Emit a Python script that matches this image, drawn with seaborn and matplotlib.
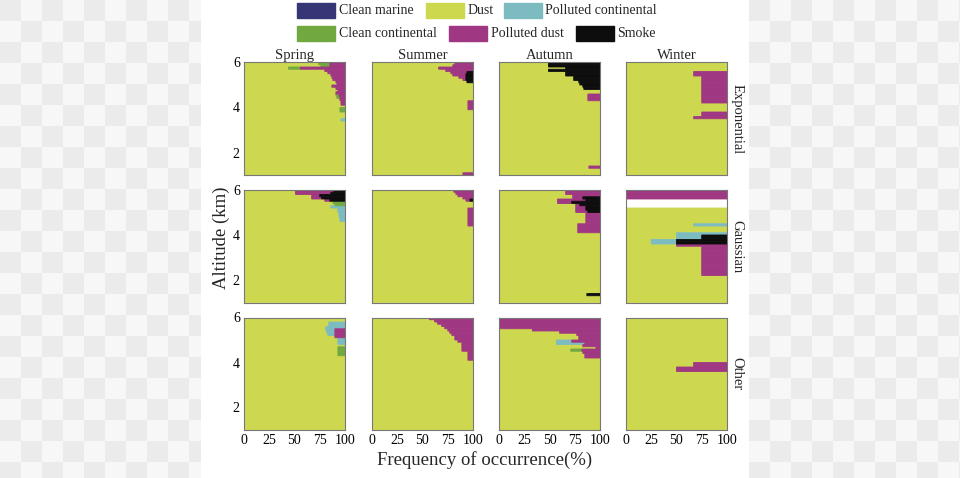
import numpy as np
import pandas as pd
import matplotlib
matplotlib.use("Agg")
import matplotlib.pyplot as plt
import seaborn as sns
from matplotlib.patches import Rectangle

# ---------------- data ----------------
SEASONS = ["Spring", "Summer", "Autumn", "Winter"]
SCHEMES = ["Exponential", "Gaussian", "Other"]
TYPES = ["Clean marine", "Dust", "Polluted continental",
         "Clean continental", "Polluted dust", "Smoke"]
TYPE_COLORS = ["#363676", "#cdd84f", "#7cbcc0", "#72a840", "#a03782", "#0d0d0d"]
# order of the values in each profile tuple below
PROFILE_TYPES = ["Dust", "Polluted continental", "Clean continental",
                 "Polluted dust", "Smoke"]
ALT_RANGE = (1.0, 6.0)     # km
ALT_STEP = 0.1             # km, vertical resolution of the profiles
X_TICKS = [0, 25, 50, 75, 100]
Y_TICKS = [2, 4, 6]

# frequency (%) per altitude bin centre; bins not listed are 100 % dust
exp_spring = {
    5.95: (74, 0, 11, 15, 0), 5.85: (76, 0, 9, 15, 0), 5.75: (44, 0, 12, 44, 0),
    5.65: (80, 0, 0, 20, 0), 5.55: (83, 0, 0, 17, 0), 5.45: (86, 0, 0, 14, 0),
    5.35: (87, 0, 0, 13, 0), 5.25: (88, 0, 0, 12, 0), 5.15: (91, 0, 0, 9, 0),
    5.05: (92, 0, 0, 8, 0), 4.95: (87, 0, 0, 13, 0), 4.85: (91, 0, 0, 9, 0),
    4.75: (93, 0, 0, 7, 0), 4.65: (91, 0, 0, 9, 0), 4.55: (91, 0, 3, 6, 0),
    4.45: (92, 0, 3, 5, 0), 4.35: (95, 0, 0, 5, 0), 4.25: (96, 0, 0, 4, 0),
    4.15: (96, 0, 0, 4, 0), 3.95: (95, 0, 5, 0, 0), 3.85: (95, 0, 5, 0, 0),
    3.45: (96, 4, 0, 0, 0),
}
exp_summer = {
    5.95: (82, 0, 0, 18, 0), 5.85: (80, 0, 0, 20, 0), 5.75: (66, 0, 0, 34, 0),
    5.65: (73, 0, 0, 27, 0), 5.55: (78, 0, 0, 16, 6), 5.45: (80, 0, 0, 13, 7),
    5.35: (86, 0, 0, 7, 7), 5.25: (90, 0, 0, 3, 7), 5.15: (94, 0, 0, 0, 6),
    4.25: (95, 0, 0, 5, 0), 4.15: (95, 0, 0, 5, 0), 4.05: (95, 0, 0, 5, 0),
    3.95: (95, 0, 0, 5, 0), 1.05: (90, 0, 0, 10, 0),
}
exp_autumn = {
    5.95: (49, 0, 0, 0, 51), 5.85: (49, 0, 0, 0, 51), 5.75: (66, 0, 0, 0, 34),
    5.65: (49, 0, 0, 0, 51), 5.55: (66, 0, 0, 0, 34), 5.45: (66, 0, 0, 0, 34),
    5.35: (74, 0, 0, 0, 26), 5.25: (74, 0, 0, 0, 26), 5.15: (79, 0, 0, 0, 21),
    5.05: (80, 0, 0, 0, 20), 4.95: (83, 0, 0, 0, 17), 4.85: (84, 0, 0, 0, 16),
    4.55: (88, 0, 0, 12, 0), 4.45: (88, 0, 0, 12, 0), 4.35: (88, 0, 0, 12, 0),
    1.35: (89, 0, 0, 11, 0),
}
exp_winter = {
    5.55: (67, 0, 0, 33, 0), 5.45: (67, 0, 0, 33, 0),
    5.35: (75, 0, 0, 25, 0), 5.25: (75, 0, 0, 25, 0), 5.15: (75, 0, 0, 25, 0),
    5.05: (75, 0, 0, 25, 0), 4.95: (75, 0, 0, 25, 0), 4.85: (75, 0, 0, 25, 0),
    4.75: (75, 0, 0, 25, 0), 4.65: (75, 0, 0, 25, 0), 4.55: (75, 0, 0, 25, 0),
    4.45: (75, 0, 0, 25, 0), 4.35: (75, 0, 0, 25, 0), 4.25: (75, 0, 0, 25, 0),
    3.75: (75, 0, 0, 25, 0), 3.65: (75, 0, 0, 25, 0), 3.55: (67, 0, 0, 33, 0),
}
gau_spring = {
    5.95: (51, 0, 0, 38, 11), 5.85: (51, 0, 0, 35, 14), 5.75: (67, 0, 0, 8, 25),
    5.65: (67, 0, 0, 10, 23), 5.55: (80, 0, 0, 5, 15), 5.45: (88, 0, 12, 0, 0),
    5.35: (90, 0, 10, 0, 0), 5.25: (86, 14, 0, 0, 0), 5.15: (93, 7, 0, 0, 0),
    5.05: (93, 7, 0, 0, 0), 4.95: (94, 6, 0, 0, 0), 4.85: (94, 6, 0, 0, 0),
    4.75: (95, 5, 0, 0, 0), 4.65: (95, 5, 0, 0, 0),
}
gau_summer = {
    5.95: (81, 0, 0, 19, 0), 5.85: (83, 0, 0, 17, 0), 5.75: (85, 0, 0, 15, 0),
    5.65: (90, 0, 0, 10, 0), 5.55: (93, 0, 0, 4, 3), 5.15: (95, 0, 0, 5, 0),
    5.05: (95, 0, 0, 5, 0), 4.95: (95, 0, 0, 5, 0), 4.85: (95, 0, 0, 5, 0),
    4.75: (95, 0, 0, 5, 0), 4.65: (95, 0, 0, 5, 0), 4.55: (95, 0, 0, 5, 0),
    4.45: (95, 0, 0, 5, 0),
}
gau_autumn = {
    5.95: (66, 0, 0, 34, 0), 5.85: (66, 0, 0, 34, 0), 5.75: (73, 0, 0, 27, 0),
    5.65: (73, 0, 0, 10, 17), 5.55: (58, 0, 0, 28, 14), 5.45: (58, 0, 0, 14, 28),
    5.35: (76, 0, 0, 4, 20), 5.25: (76, 0, 0, 10, 14), 5.15: (76, 0, 0, 10, 14),
    5.05: (76, 0, 0, 12, 12), 4.95: (86, 0, 0, 14, 0), 4.85: (86, 0, 0, 14, 0),
    4.75: (86, 0, 0, 14, 0), 4.65: (86, 0, 0, 14, 0), 4.55: (86, 0, 0, 14, 0),
    4.45: (78, 0, 0, 22, 0), 4.35: (78, 0, 0, 22, 0), 4.25: (78, 0, 0, 22, 0),
    4.15: (78, 0, 0, 22, 0), 1.35: (87, 0, 0, 0, 13),
}
gau_winter = {
    5.95: (0, 0, 0, 100, 0), 5.85: (0, 0, 0, 100, 0), 5.75: (0, 0, 0, 100, 0),
    5.65: (0, 0, 0, 100, 0), 5.55: (0, 0, 0, 0, 0), 5.45: (0, 0, 0, 0, 0),
    5.35: (0, 0, 0, 0, 0), 5.25: (0, 0, 0, 0, 0),
    4.45: (67, 33, 0, 0, 0), 4.05: (50, 50, 0, 0, 0), 3.95: (50, 25, 0, 0, 25),
    3.85: (50, 25, 0, 0, 25), 3.75: (25, 25, 0, 0, 50), 3.65: (25, 25, 0, 0, 50),
    3.55: (50, 0, 0, 50, 0), 3.45: (75, 0, 0, 25, 0), 3.35: (75, 0, 0, 25, 0),
    3.25: (75, 0, 0, 25, 0), 3.15: (75, 0, 0, 25, 0), 3.05: (75, 0, 0, 25, 0),
    2.95: (75, 0, 0, 25, 0), 2.85: (75, 0, 0, 25, 0), 2.75: (75, 0, 0, 25, 0),
    2.65: (75, 0, 0, 25, 0), 2.55: (75, 0, 0, 25, 0), 2.45: (75, 0, 0, 25, 0),
    2.35: (75, 0, 0, 25, 0), 2.25: (75, 0, 0, 25, 0),
}
oth_spring = {
    5.75: (84, 16, 0, 0, 0), 5.65: (84, 16, 0, 0, 0), 5.55: (81, 19, 0, 0, 0),
    5.45: (81, 9, 0, 10, 0), 5.35: (82, 8, 0, 10, 0), 5.25: (83, 7, 0, 10, 0),
    5.15: (90, 0, 0, 10, 0), 5.05: (93, 7, 0, 0, 0), 4.95: (93, 7, 0, 0, 0),
    4.85: (93, 7, 0, 0, 0), 4.65: (93, 0, 7, 0, 0), 4.55: (93, 0, 7, 0, 0),
    4.45: (93, 0, 7, 0, 0), 4.35: (93, 0, 7, 0, 0),
}
oth_summer = {
    5.95: (57, 0, 0, 43, 0), 5.85: (62, 0, 0, 38, 0), 5.75: (65, 0, 0, 35, 0),
    5.65: (69, 0, 0, 31, 0), 5.55: (72, 0, 0, 28, 0), 5.45: (75, 0, 0, 25, 0),
    5.35: (77, 0, 0, 23, 0), 5.25: (79, 0, 0, 21, 0), 5.15: (82, 0, 0, 18, 0),
    5.05: (82, 0, 0, 18, 0), 4.95: (85, 0, 0, 15, 0), 4.85: (89, 0, 0, 11, 0),
    4.75: (89, 0, 0, 11, 0), 4.65: (89, 0, 0, 11, 0), 4.55: (89, 0, 0, 11, 0),
    4.45: (95, 0, 0, 5, 0), 4.35: (95, 0, 0, 5, 0), 4.25: (95, 0, 0, 5, 0),
    4.15: (95, 0, 0, 5, 0),
}
oth_autumn = {
    5.95: (0, 0, 0, 100, 0), 5.85: (0, 0, 0, 100, 0), 5.75: (0, 0, 0, 100, 0),
    5.65: (0, 0, 0, 100, 0), 5.55: (0, 0, 0, 100, 0), 5.45: (33, 0, 0, 67, 0),
    5.35: (60, 0, 0, 40, 0), 5.25: (77, 0, 0, 23, 0), 5.15: (79, 0, 0, 21, 0),
    5.05: (79, 0, 0, 21, 0), 4.95: (57, 15, 0, 28, 0), 4.85: (57, 28, 0, 15, 0),
    4.75: (83, 0, 0, 17, 0), 4.65: (96, 0, 0, 4, 0), 4.55: (71, 0, 11, 18, 0),
    4.45: (83, 0, 0, 17, 0), 4.35: (85, 0, 0, 15, 0), 4.25: (85, 0, 0, 15, 0),
}
oth_winter = {
    3.95: (67, 0, 0, 33, 0), 3.85: (67, 0, 0, 33, 0),
    3.75: (50, 0, 0, 50, 0), 3.65: (50, 0, 0, 50, 0),
}

PROFILES = {
    ("Exponential", "Spring"): exp_spring, ("Exponential", "Summer"): exp_summer,
    ("Exponential", "Autumn"): exp_autumn, ("Exponential", "Winter"): exp_winter,
    ("Gaussian", "Spring"): gau_spring, ("Gaussian", "Summer"): gau_summer,
    ("Gaussian", "Autumn"): gau_autumn, ("Gaussian", "Winter"): gau_winter,
    ("Other", "Spring"): oth_spring, ("Other", "Summer"): oth_summer,
    ("Other", "Autumn"): oth_autumn, ("Other", "Winter"): oth_winter,
}

# long-form table
n_bins = int(round((ALT_RANGE[1] - ALT_RANGE[0]) / ALT_STEP))
centres = [round(ALT_RANGE[0] + ALT_STEP * (i + 0.5), 2) for i in range(n_bins)]
edges = [round(ALT_RANGE[0] + ALT_STEP * i, 2) for i in range(n_bins + 1)]
records = []
for (scheme, season), prof in PROFILES.items():
    for a in centres:
        vals = prof.get(a, (100, 0, 0, 0, 0))
        for t, v in zip(PROFILE_TYPES, vals):
            records.append((scheme, season, a, t, float(v)))
df = pd.DataFrame(records, columns=["scheme", "season", "altitude", "type", "freq"])

# ---------------- style ----------------
sns.set_style("white")
plt.rcParams["font.family"] = ["Liberation Serif", "DejaVu Serif"]
palette = dict(zip(TYPES, TYPE_COLORS))
stack_order = list(reversed(PROFILE_TYPES))   # seaborn stacks last level first

W, H = 960, 478
fig = plt.figure(figsize=(W / 100, H / 100), dpi=100)
fig.patch.set_facecolor("white")
# checkerboard side margins of the source image
sq = 21
for x0, x1 in ((0, 201), (749, W)):
    for i, xs in enumerate(range(x0, x1, sq)):
        for j, ys in enumerate(range(0, H, sq)):
            col = "#ebebeb" if (i + j) % 2 == 0 else "#f7f7f7"
            fig.patches.append(Rectangle((xs / W, 1 - (ys + sq) / H),
                                         min(sq, x1 - xs) / W, sq / H,
                                         transform=fig.transFigure,
                                         color=col, zorder=-5, lw=0))

col_left = [244, 372, 499, 626]
row_top = [62.5, 190, 317.5]
pw, ph = 101, 112.5

for r, scheme in enumerate(SCHEMES):
    for c, season in enumerate(SEASONS):
        ax = fig.add_axes([col_left[c] / W, 1 - (row_top[r] + ph) / H, pw / W, ph / H])
        sub = df[(df.scheme == scheme) & (df.season == season)]
        sns.histplot(data=sub, y="altitude", weights="freq", hue="type",
                     hue_order=stack_order, palette=palette, multiple="stack",
                     bins=edges, element="bars", fill=True, alpha=1,
                     linewidth=0, legend=False, ax=ax)
        # close the hairline seams between adjacent bins
        for p in ax.patches:
            if p.get_width() > 0 and p.get_height() > 0:
                p.set_edgecolor(p.get_facecolor())
                p.set_linewidth(0.6)
                p.set_snap(False)
            else:
                p.set_visible(False)
        ax.set_xlim(0, 100)
        ax.set_ylim(*ALT_RANGE)
        ax.set_xticks(X_TICKS)
        ax.set_yticks(Y_TICKS)
        ax.set_xlabel("")
        ax.set_ylabel("")
        ax.tick_params(direction="in", length=2.5, width=0.6, colors="#777777",
                       labelcolor="black", labelsize=10, top=True, right=True,
                       pad=3)
        if c != 0:
            ax.set_yticklabels([])
        if r != 2:
            ax.set_xticklabels([])
        for s in ax.spines.values():
            s.set_color("#777777")
            s.set_linewidth(0.8)
            s.set_zorder(5)
        if r == 0:
            ax.set_title(season, fontsize=10.5, pad=2)
        if c == 3:
            ax.text(1.1, 0.5, scheme, transform=ax.transAxes, rotation=270,
                    ha="center", va="center", fontsize=10.5)

fig.text(221 / W, 1 - 238 / H, "Altitude (km)", rotation=90, ha="center",
         va="center", fontsize=13.5)
fig.text(485 / W, 1 - 460 / H, "Frequency of occurrence(%)", ha="center",
         va="center", fontsize=13.5)

# legend (two rows, as in the source)
legend_items = [
    ("Clean marine", 297, 339, 10.5), ("Dust", 426, 468, 10.5),
    ("Polluted continental", 504, 545, 10.5),
    ("Clean continental", 297, 339, 33.5), ("Polluted dust", 449, 491, 33.5),
    ("Smoke", 576, 617, 33.5),
]
for name, px, tx, yc in legend_items:
    fig.patches.append(Rectangle((px / W, 1 - (yc + 7.5) / H), 38 / W, 15 / H,
                                 transform=fig.transFigure,
                                 color=palette[name], zorder=3))
    fig.text(tx / W, 1 - yc / H, name, ha="left", va="center", fontsize=10)

fig.savefig("out.png", dpi=100)
